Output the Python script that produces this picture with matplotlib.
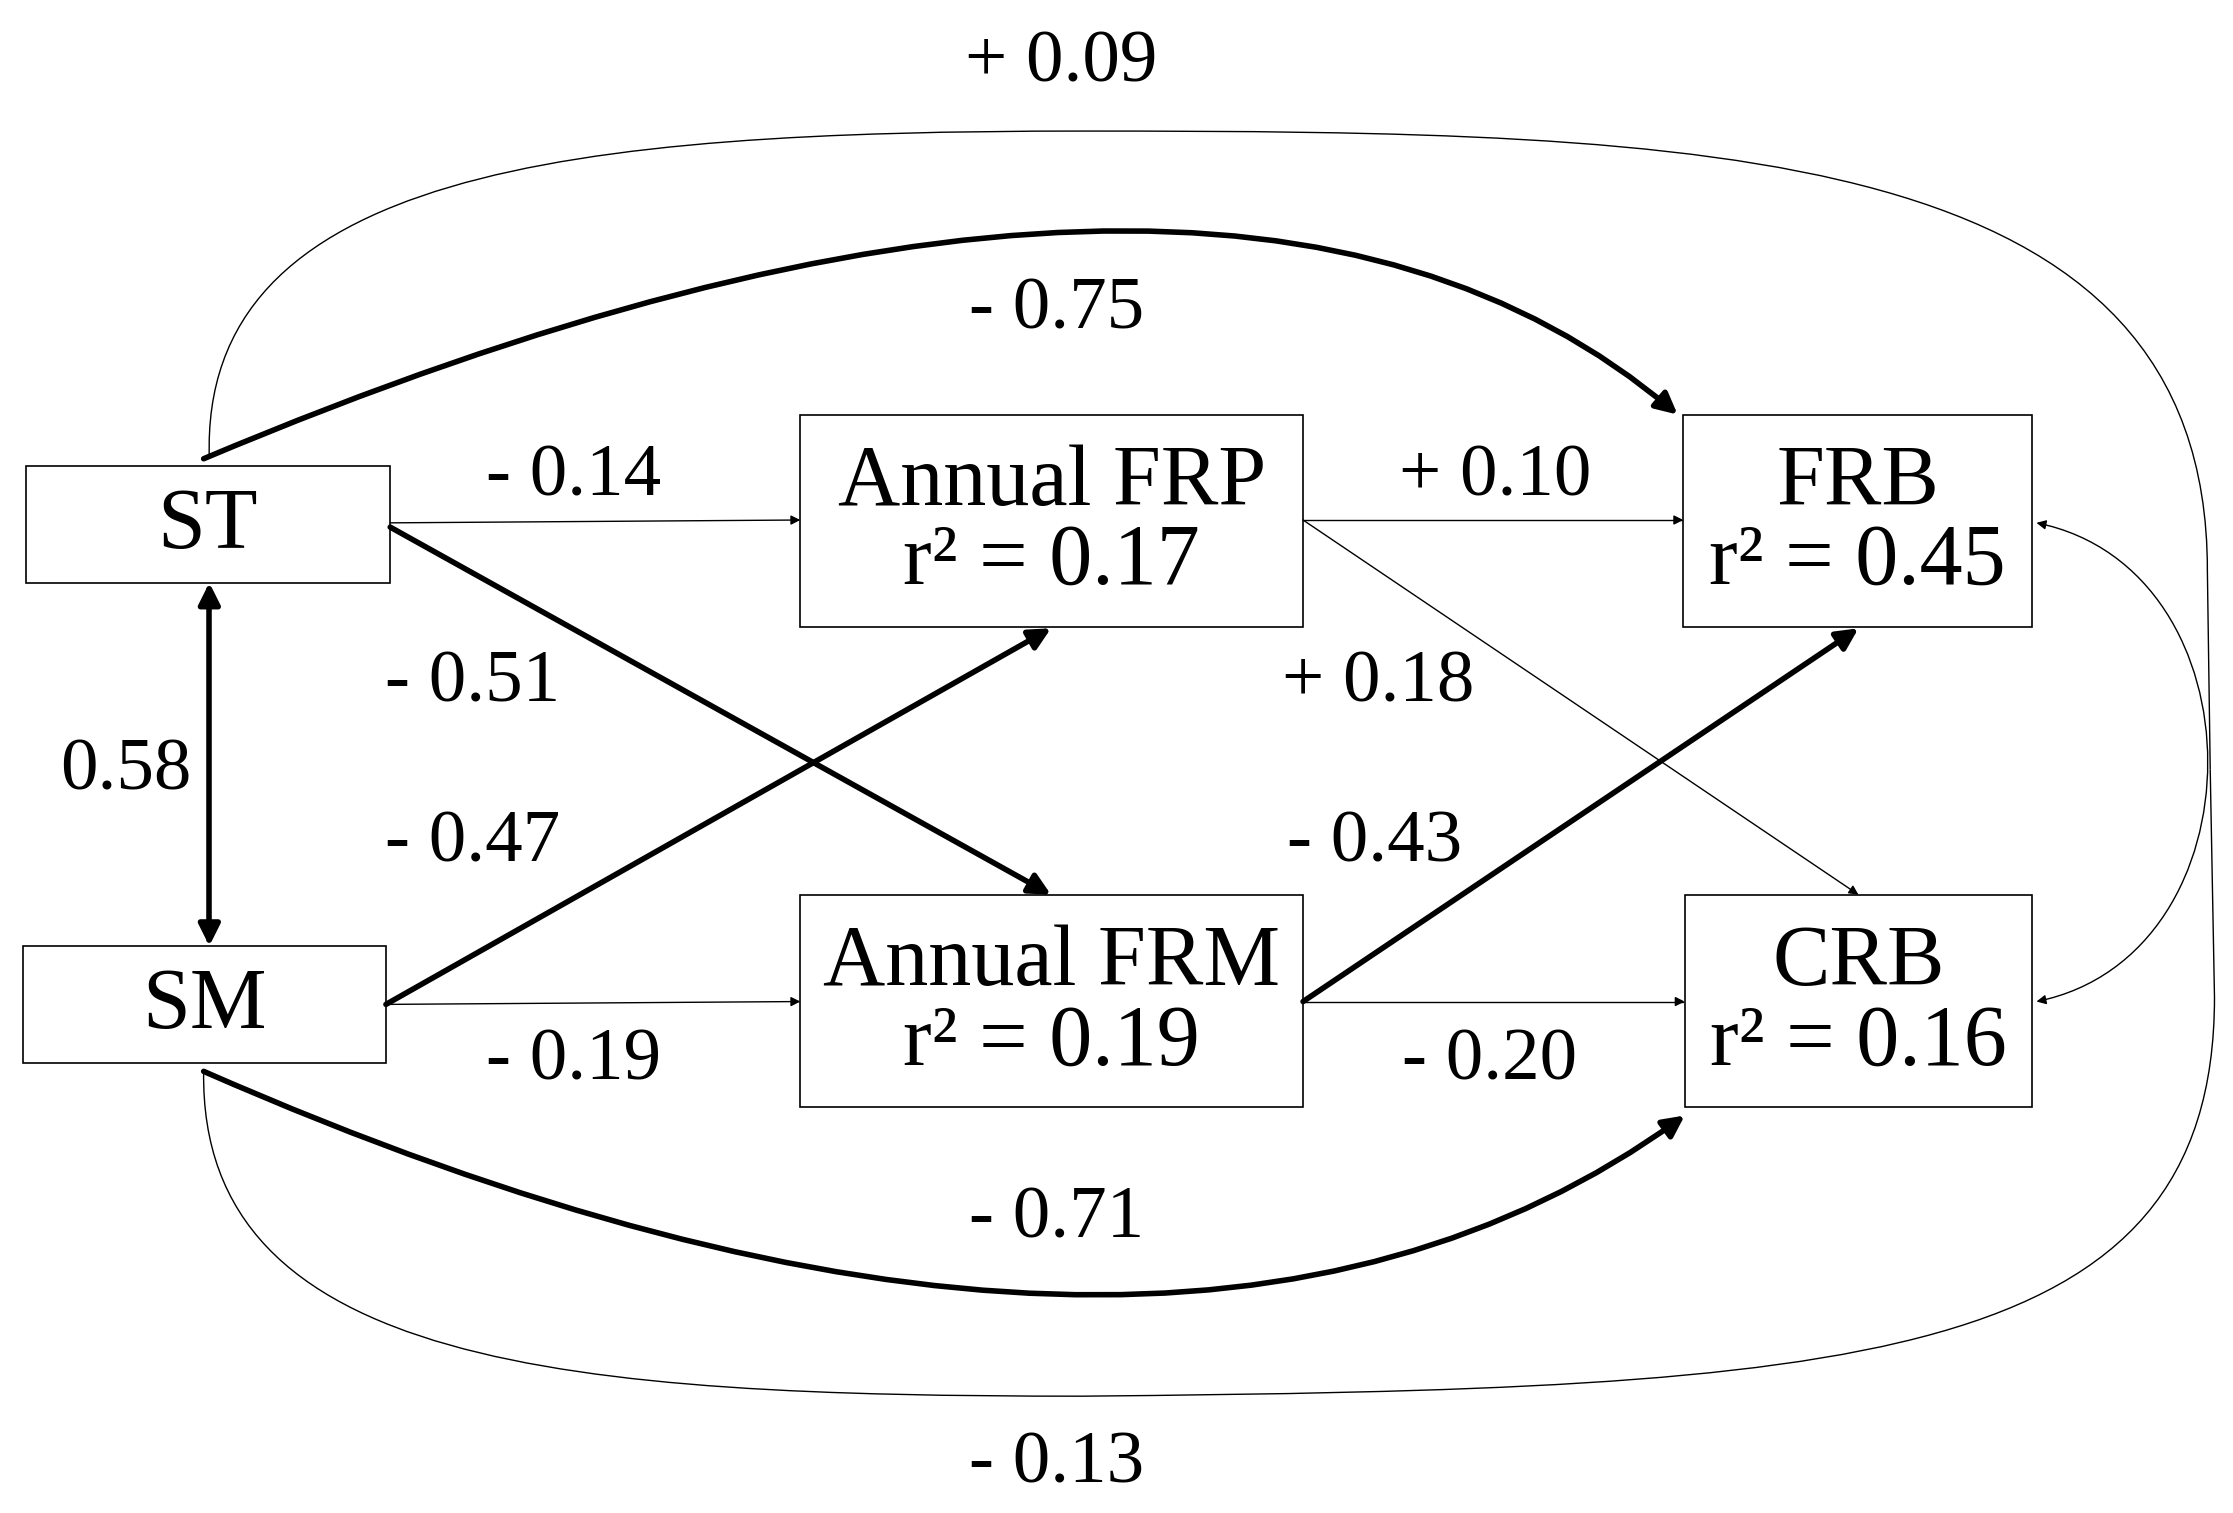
import matplotlib
matplotlib.use("Agg")
import matplotlib.pyplot as plt
import matplotlib.patches as patches
from matplotlib.path import Path

plt.rcParams['font.family'] = ['Liberation Serif', 'DejaVu Serif']

# boxes: name -> (x0, y0, x1, y1, text)
box_names = ['ST', 'SM', 'FRP', 'FRM', 'FRB', 'CRB']
box_rects = [(18, 327, 274, 409), (16, 664, 271, 746), (562, 291, 915, 440),
             (562, 628, 915, 777), (1182, 291, 1427, 440), (1183, 628, 1427, 777)]
box_texts = ['ST', 'SM', 'Annual FRP\nr² = 0.17', 'Annual FRM\nr² = 0.19',
             'FRB\nr² = 0.45', 'CRB\nr² = 0.16']

# straight paths: start, end, thick?, label, label position
line_starts = [(274, 367), (274, 370), (271, 705), (271, 705),
               (915, 365), (915, 365), (915, 703), (915, 703)]
line_ends = [(562, 365), (738, 628), (738, 441), (562, 703),
             (1182, 365), (1305, 628), (1305, 441), (1183, 703)]
line_thick = [False, True, True, False, False, False, True, False]
line_labels = ['- 0.14', '- 0.51', '- 0.47', '- 0.19',
               '+ 0.10', '+ 0.18', '- 0.43', '- 0.20']
label_pos = [(403, 335), (332, 480), (332, 592), (403, 745),
             (1050, 335), (968, 480), (965, 592), (1046, 745)]

LABEL_FS = 54

fig = plt.figure(figsize=(22.33, 15.13), dpi=100)
ax = fig.add_axes([0, 0, 1, 1])
ax.set_xlim(0, 1568)
ax.set_ylim(1062, 0)
ax.axis('off')

for (x0, y0, x1, y1), t in zip(box_rects, box_texts):
    ax.add_patch(patches.Rectangle((x0, y0), x1 - x0, y1 - y0, fill=False,
                                   lw=1.2, ec='black'))
    ax.text((x0 + x1) / 2, (y0 + y1) / 2 + 2, t, ha='center', va='center',
            fontsize=62, linespacing=1.0)

def arrow(path, thick, style='-|>'):
    lw = 4 if thick else 1
    ms = 32 if thick else 14
    ax.add_patch(patches.FancyArrowPatch(path=path, arrowstyle=style,
                                         mutation_scale=ms, lw=lw, color='black',
                                         shrinkA=0, shrinkB=0))

for s, e, th in zip(line_starts, line_ends, line_thick):
    arrow(Path([s, e]), th)
for t, p in zip(line_labels, label_pos):
    ax.text(p[0], p[1], t, ha='center', va='center', fontsize=LABEL_FS)

# ST <-> SM
arrow(Path([(147, 409), (147, 664)]), True, '<|-|>')
ax.text(88, 542, '0.58', ha='center', va='center', fontsize=LABEL_FS)

# thick curves
arrow(Path([(143, 322), (859, 20), (1178, 291)],
           [Path.MOVETO, Path.CURVE3, Path.CURVE3]), True)
ax.text(742, 218, '- 0.75', ha='center', va='center', fontsize=LABEL_FS)
arrow(Path([(143, 752), (817, 1048), (1183, 783)],
           [Path.MOVETO, Path.CURVE3, Path.CURVE3]), True)
ax.text(742, 856, '- 0.71', ha='center', va='center', fontsize=LABEL_FS)

# outer thin loops
C4 = Path.CURVE4
top = Path([(147, 322), (140, 120), (400, 92), (760, 92), (1200, 92), (1550, 100),
            (1550, 400), (1552, 540)],
           [Path.MOVETO, C4, C4, C4, C4, C4, C4, Path.LINETO])
bot = Path([(143, 752), (140, 960), (400, 980), (760, 980), (1300, 975), (1555, 960),
            (1555, 700), (1552, 540)],
           [Path.MOVETO, C4, C4, C4, C4, C4, C4, Path.LINETO])
for p in (top, bot):
    ax.add_patch(patches.PathPatch(p, fill=False, lw=1, ec='black'))
ax.text(745, 45, '+ 0.09', ha='center', va='center', fontsize=LABEL_FS)
ax.text(742, 1028, '- 0.13', ha='center', va='center', fontsize=LABEL_FS)

# FRB <-> CRB
arrow(Path([(1430, 367), (1590, 400), (1590, 670), (1430, 703)],
           [Path.MOVETO, C4, C4, C4]), False, '<|-|>')

fig.savefig('out.png', dpi=100)
